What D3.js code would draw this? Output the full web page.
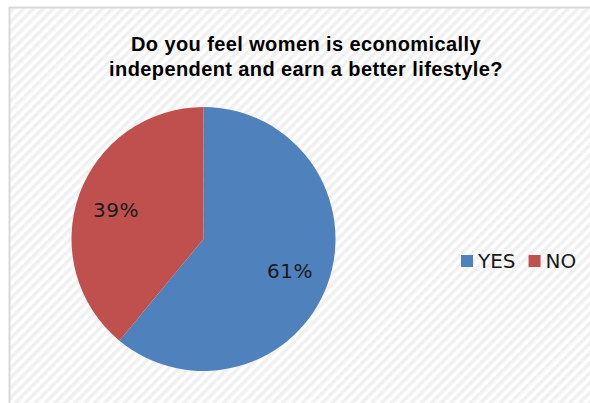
<!DOCTYPE html>
<html>
<head>
<meta charset="utf-8">
<script src="https://cdn.jsdelivr.net/npm/d3@7"></script>
<style>
  html, body { margin: 0; padding: 0; background: #ffffff; }
  svg { display: block; }
</style>
</head>
<body>
<svg id="chart" width="590" height="403"></svg>
<script>
// Survey answers and their shares (percent)
const categories = ["YES", "NO"];
const values = [61, 39];
const colors = ["#4f81bd", "#c0504d"];
const titleLines = [
  "Do you feel women is economically",
  "independent and earn a better lifestyle?"
];

const svg = d3.select("#chart");
const W = 590, H = 403;

// diagonal hatched chart-area background
const defs = svg.append("defs");
const pat = defs.append("pattern")
  .attr("id", "hatch")
  .attr("patternUnits", "userSpaceOnUse")
  .attr("width", 7).attr("height", 7)
  .attr("patternTransform", "rotate(45)");
pat.append("rect").attr("width", 7).attr("height", 7).attr("fill", "#ffffff");
pat.append("rect").attr("width", 3.5).attr("height", 7).attr("fill", "#f0f0f0");

svg.append("rect")
  .attr("x", 9.5).attr("y", 7.5)
  .attr("width", W + 10).attr("height", H + 10)
  .attr("fill", "url(#hatch)")
  .attr("stroke", "#d9d9d9")
  .attr("stroke-width", 2);

// title
const title = svg.append("text")
  .attr("text-anchor", "middle")
  .attr("font-family", "Liberation Sans, Arial, sans-serif")
  .attr("font-weight", "bold")
  .attr("font-size", 20)
  .attr("letter-spacing", 0.4)
  .attr("fill", "#000");
titleLines.forEach((t, i) => {
  title.append("tspan").attr("x", 306).attr("y", 51 + i * 25).text(t);
});

// pie
const cx = 203.5, cy = 239, r = 132;
const pie = d3.pie().sort(null).value(d => d)(values);
const arc = d3.arc().innerRadius(0).outerRadius(r);
const g = svg.append("g").attr("transform", `translate(${cx},${cy})`);

g.selectAll("path")
  .data(pie)
  .join("path")
  .attr("d", arc)
  .attr("fill", (d, i) => colors[i]);

const labelArc = d3.arc().innerRadius(r * 0.72).outerRadius(r * 0.72);
g.selectAll("text.lbl")
  .data(pie)
  .join("text")
  .attr("class", "lbl")
  .attr("transform", (d, i) => {
    const [x, y] = labelArc.centroid(d);
    return `translate(${x - (i === 0 ? 3 : -2)},${y + (i === 1 ? 3 : 0)})`;
  })
  .attr("text-anchor", "middle")
  .attr("dominant-baseline", "central")
  .attr("font-family", "DejaVu Sans, sans-serif")
  .attr("font-size", 20)
  .attr("letter-spacing", 0.5)
  .attr("fill", "#1a1a1a")
  .text(d => d.data + "%");

// legend
const legend = svg.append("g").attr("transform", "translate(461,261)");
let lx = 0;
categories.forEach((c, i) => {
  const item = legend.append("g").attr("transform", `translate(${lx},0)`);
  item.append("rect").attr("x", 0).attr("y", -6).attr("width", 12).attr("height", 12).attr("fill", colors[i]);
  const t = item.append("text")
    .attr("x", 17).attr("y", 0)
    .attr("dominant-baseline", "central")
    .attr("font-family", "DejaVu Sans, sans-serif")
    .attr("font-size", 20)
    .attr("fill", "#1a1a1a")
    .text(c);
  lx += 17 + t.node().getComputedTextLength() + 13;
});
</script>
</body>
</html>
